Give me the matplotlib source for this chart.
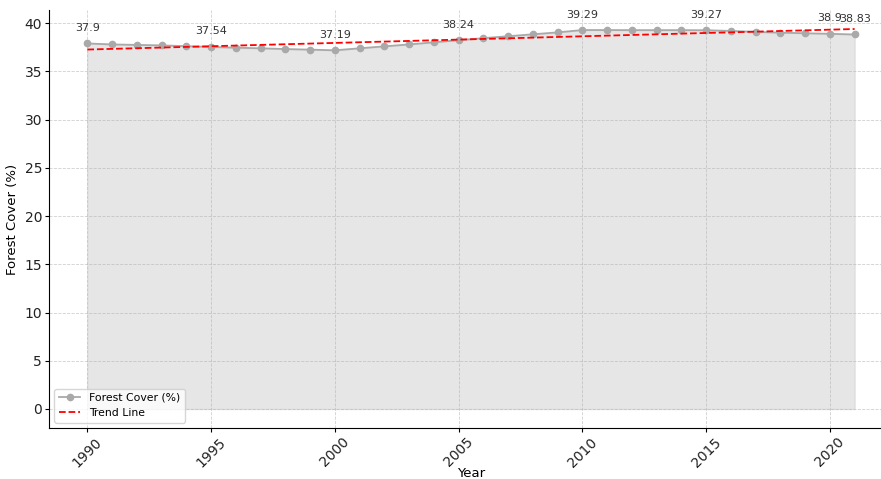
import numpy as np
import matplotlib.pyplot as plt

years = list(range(1990, 2022))
forest_cover = [37.90, 37.80, 37.75, 37.70, 37.62, 37.54, 37.46, 37.40, 37.32, 37.26,
                37.19, 37.40, 37.60, 37.80, 38.02, 38.24, 38.45, 38.65, 38.85, 39.05,
                39.29, 39.29, 39.28, 39.28, 39.28, 39.27, 39.20, 39.10, 39.02, 38.96,
                38.90, 38.83]
label_years = [1990, 1995, 2000, 2005, 2010, 2015, 2020, 2021]

x = np.array(years)
y = np.array(forest_cover)
coef = np.polyfit(x, y, 1)
trend = np.polyval(coef, x)

fig = plt.figure(figsize=(8.81, 4.79), dpi=100)
ax = fig.add_axes([49 / 881, 51 / 479, 844 / 881, 418 / 479])
ax.spines['top'].set_visible(False)
ax.spines['right'].set_visible(False)

ax.plot(x, y, marker='o', color='darkgray', markersize=4.5, linewidth=1.3, label='Forest Cover (%)')
ax.fill_between(x, y, color='lightgray', alpha=0.55)
ax.plot(x, trend, color='red', linestyle='--', linewidth=1.3, label='Trend Line')

for yr in label_years:
    v = forest_cover[years.index(yr)]
    ax.annotate(f'{v:g}', (yr, v), textcoords='offset points', xytext=(0, 9),
                ha='center', fontsize=8, color='#333333')

ax.set_xlabel('Year', fontsize=9.5, labelpad=-2)
ax.set_ylabel('Forest Cover (%)', fontsize=9.5, labelpad=4)
ax.tick_params(axis='both', labelsize=10, length=3, pad=2, labelcolor='#222222')
ax.tick_params(axis='x', rotation=45)
ax.grid(True, linestyle='--', linewidth=0.6, alpha=0.6)
ax.legend(loc='lower left', fontsize=7.8)

plt.savefig('out.png', dpi=100)
plt.close(fig)
